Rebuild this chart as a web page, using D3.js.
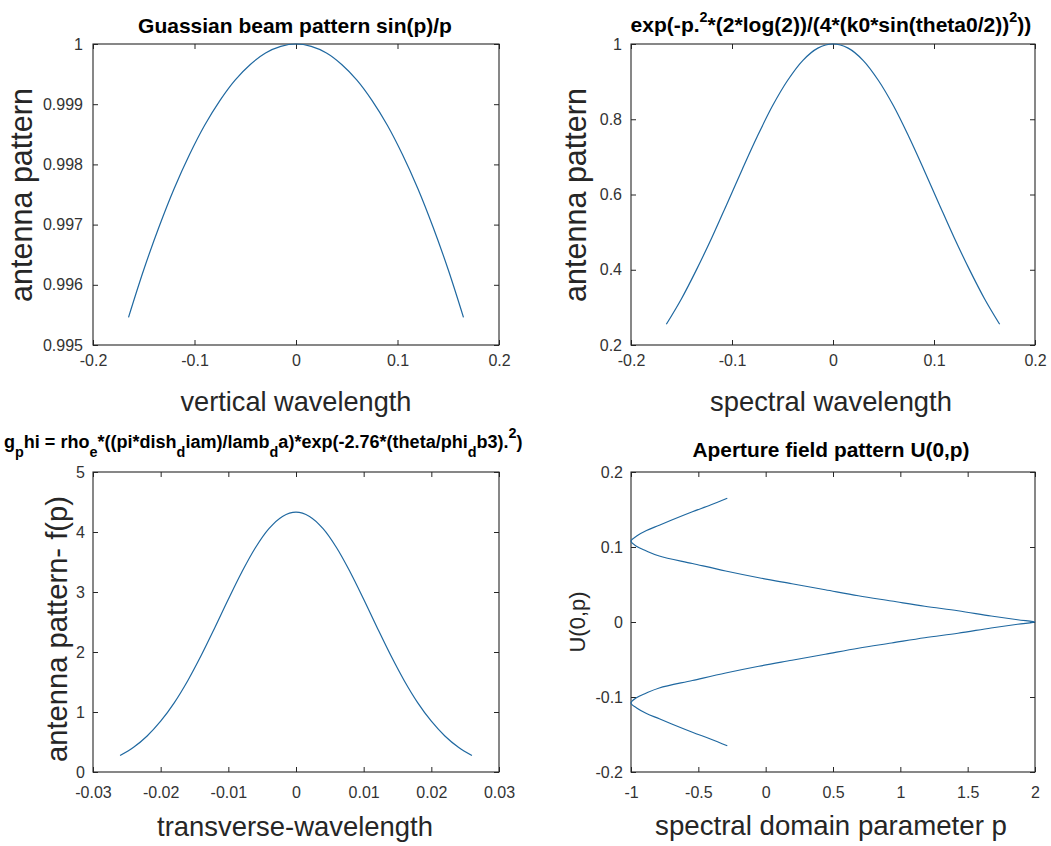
<!DOCTYPE html>
<html><head><meta charset="utf-8">
<script src="https://cdn.jsdelivr.net/npm/d3@7"></script>
<style>
body{margin:0;background:#fff}
svg{display:block}
text{font-family:"Liberation Sans",Arial,Helvetica,sans-serif}
</style>
</head><body>
<svg id="c" width="1051" height="846"></svg>
<script>
// ---------------- DATA ----------------
// Panel 1: Guassian beam pattern sin(p)/p
const p1X = [-0.165,-0.15,-0.135,-0.12,-0.105,-0.09,-0.075,-0.06,-0.045,-0.03,-0.015,0,0.015,0.03,0.045,0.06,0.075,0.09,0.105,0.12,0.135,0.15,0.165];
const p1Y = [0.99546,0.99625,0.99696,0.9976,0.99816,0.99865,0.99906,0.9994,0.99966,0.99985,0.99996,1,0.99996,0.99985,0.99966,0.9994,0.99906,0.99865,0.99816,0.9976,0.99696,0.99625,0.99546];
const p1XTicks = [-0.2,-0.1,0,0.1,0.2];
const p1XTickLabels = ["-0.2","-0.1","0","0.1","0.2"];
const p1YTicks = [0.995,0.996,0.997,0.998,0.999,1];
const p1YTickLabels = ["0.995","0.996","0.997","0.998","0.999","1"];

// Panel 2: exp(-p.^2*...)
const p2X = [-0.165,-0.15,-0.135,-0.12,-0.105,-0.09,-0.075,-0.06,-0.045,-0.03,-0.015,0,0.015,0.03,0.045,0.06,0.075,0.09,0.105,0.12,0.135,0.15,0.165];
const p2Y = [0.255,0.323,0.401,0.485,0.575,0.666,0.754,0.835,0.903,0.956,0.989,1,0.989,0.956,0.903,0.835,0.754,0.666,0.575,0.485,0.401,0.323,0.255];
const p2XTicks = [-0.2,-0.1,0,0.1,0.2];
const p2XTickLabels = ["-0.2","-0.1","0","0.1","0.2"];
const p2YTicks = [0.2,0.4,0.6,0.8,1];
const p2YTickLabels = ["0.2","0.4","0.6","0.8","1"];

// Panel 3: g_phi
const p3X = [-0.026,-0.024,-0.022,-0.02,-0.018,-0.016,-0.014,-0.012,-0.01,-0.008,-0.006,-0.004,-0.002,0,0.002,0.004,0.006,0.008,0.01,0.012,0.014,0.016,0.018,0.02,0.022,0.024,0.026];
const p3Y = [0.274,0.412,0.6,0.846,1.153,1.522,1.945,2.405,2.88,3.334,3.738,4.056,4.26,4.33,4.26,4.056,3.738,3.334,2.88,2.405,1.945,1.522,1.153,0.846,0.6,0.412,0.274];
const p3XTicks = [-0.03,-0.02,-0.01,0,0.01,0.02,0.03];
const p3XTickLabels = ["-0.03","-0.02","-0.01","0","0.01","0.02","0.03"];
const p3YTicks = [0,1,2,3,4,5];
const p3YTickLabels = ["0","1","2","3","4","5"];

// Panel 4: Aperture field pattern U(0,p)  (U on x axis, p on y axis)
const p4P = [-0.165,-0.156,-0.147,-0.138,-0.129,-0.122,-0.115,-0.108,-0.101,-0.095,-0.088,-0.078,-0.068,-0.059,-0.051,-0.043,-0.035,-0.028,-0.021,-0.015,-0.008,-0.003,0,
             0.003,0.008,0.015,0.021,0.028,0.035,0.043,0.051,0.059,0.068,0.078,0.088,0.095,0.101,0.108,0.115,0.122,0.129,0.138,0.147,0.156,0.165];
const p4U = [-0.285,-0.41,-0.544,-0.67,-0.79,-0.885,-0.955,-1.0,-0.96,-0.89,-0.79,-0.544,-0.297,-0.051,0.195,0.442,0.688,0.935,1.181,1.428,1.674,1.871,2.0,
             1.871,1.674,1.428,1.181,0.935,0.688,0.442,0.195,-0.051,-0.297,-0.544,-0.79,-0.89,-0.96,-1.0,-0.955,-0.885,-0.79,-0.67,-0.544,-0.41,-0.285];
const p4XTicks = [-1,-0.5,0,0.5,1,1.5,2];
const p4XTickLabels = ["-1","-0.5","0","0.5","1","1.5","2"];
const p4YTicks = [-0.2,-0.1,0,0.1,0.2];
const p4YTickLabels = ["-0.2","-0.1","0","0.1","0.2"];

// ---------------- DRAWING ----------------
const svg = d3.select("#c");
svg.append("rect").attr("width",1051).attr("height",846).attr("fill","#fff");
const AX = "#262626", LINE = "#1f68a0";

function fitWidth(t, target){
  const len = t.node().getComputedTextLength();
  const fs = parseFloat(t.attr("font-size"));
  t.attr("font-size", fs*target/len);
}

function panel(c){
  const g = svg.append("g");
  const x = d3.scaleLinear().domain(c.xDomain).range([c.left,c.right]);
  const y = d3.scaleLinear().domain(c.yDomain).range([c.bottom,c.top]);
  const ax = (gen, tr, ticks, labels, pad, show) => {
    gen.tickValues(ticks).tickSizeInner(-5).tickSizeOuter(0).tickPadding(pad)
       .tickFormat(d => show ? labels[ticks.indexOf(d)] : "");
    const s = g.append("g").attr("transform", tr).call(gen);
    s.attr("font-family", null).attr("font-size", 16);
    s.select(".domain").remove();
    s.selectAll("line").attr("stroke", AX);
    s.selectAll("text").attr("fill", "#333");
  };
  ax(d3.axisBottom(x), `translate(0,${c.bottom})`, c.xTicks, c.xLabels, c.xPad, true);
  ax(d3.axisTop(x), `translate(0,${c.top})`, c.xTicks, c.xLabels, 0, false);
  ax(d3.axisLeft(y), `translate(${c.left},0)`, c.yTicks, c.yLabels, c.yPad, true);
  ax(d3.axisRight(y), `translate(${c.right},0)`, c.yTicks, c.yLabels, 0, false);
  g.append("rect").attr("x",c.left).attr("y",c.top)
    .attr("width",c.right-c.left).attr("height",c.bottom-c.top)
    .attr("fill","none").attr("stroke",AX).attr("stroke-width",1.1);
  const line = d3.line().x((d,i)=>x(c.xs[i])).y((d,i)=>y(c.ys[i])).curve(d3.curveCatmullRom.alpha(0.5));
  g.append("path").datum(c.xs).attr("d", line).attr("fill","none")
    .attr("stroke", LINE).attr("stroke-width", 1.2);

  // x label
  const xl = g.append("text").attr("x", c.xl.cx).attr("y", c.xl.base).attr("text-anchor","middle")
    .attr("font-size", 26).attr("fill", AX).text(c.xl.text);
  fitWidth(xl, c.xl.w);
  // y label
  const yl = g.append("text").attr("transform", `translate(${c.yl.base},${c.yl.cy}) rotate(-90)`)
    .attr("text-anchor","middle").attr("font-size", 26).attr("fill", AX).text(c.yl.text);
  fitWidth(yl, c.yl.w);
  // title
  const tt = g.append("text").attr("x", c.tl.x).attr("y", c.tl.base)
    .attr("text-anchor", c.tl.anchor).attr("font-weight","bold").attr("font-size", 20).attr("fill","#000");
  let shift = 0;
  c.tl.segs.forEach(s => {
    const fs = 20;
    const target = s.sub ? 0.45*fs : s.sup ? -0.5*fs : 0;
    const ts = tt.append("tspan").attr("dy", target - shift).text(s.t);
    if (s.sub || s.sup) ts.attr("font-size", 0.72*fs);
    shift = target;
  });
  fitWidth(tt, c.tl.w);
}

panel({left:93,right:499,top:44,bottom:345,xDomain:[-0.2,0.2],yDomain:[0.995,1],
  xTicks:p1XTicks,xLabels:p1XTickLabels,yTicks:p1YTicks,yLabels:p1YTickLabels,xPad:10,yPad:10,
  xs:p1X,ys:p1Y,
  xl:{text:"vertical wavelength",cx:296,base:411,w:231},
  yl:{text:"antenna pattern",base:32,cy:195,w:214},
  tl:{x:295,base:33,anchor:"middle",w:314,segs:[{t:"Guassian beam pattern sin(p)/p"}]}});

panel({left:631,right:1035,top:44,bottom:345,xDomain:[-0.2,0.2],yDomain:[0.2,1],
  xTicks:p2XTicks,xLabels:p2XTickLabels,yTicks:p2YTicks,yLabels:p2YTickLabels,xPad:10,yPad:9,
  xs:p2X,ys:p2Y,
  xl:{text:"spectral wavelength",cx:831,base:411,w:242},
  yl:{text:"antenna pattern",base:586,cy:195,w:214},
  tl:{x:831,base:32,anchor:"middle",w:402,segs:[{t:"exp(-p."},{t:"2",sup:true},{t:"*(2*log(2))/(4*(k0*sin(theta0/2))"},{t:"2",sup:true},{t:"))"}]}});

panel({left:93,right:499,top:472,bottom:772,xDomain:[-0.03,0.03],yDomain:[0,5],
  xTicks:p3XTicks,xLabels:p3XTickLabels,yTicks:p3YTicks,yLabels:p3YTickLabels,xPad:15,yPad:8,
  xs:p3X,ys:p3Y,
  xl:{text:"transverse-wavelength",cx:295,base:836,w:276},
  yl:{text:"antenna pattern- f(p)",base:67,cy:629,w:266},
  tl:{x:4,base:448,anchor:"start",w:514,segs:[{t:"g"},{t:"p",sub:true},{t:"hi = rho"},{t:"e",sub:true},{t:"*((pi*dish"},{t:"d",sub:true},{t:"iam)/lamb"},{t:"d",sub:true},{t:"a)*exp(-2.76*(theta/phi"},{t:"d",sub:true},{t:"b3)."},{t:"2",sup:true},{t:")"}]}});

panel({left:631,right:1035,top:472,bottom:772,xDomain:[-1,2],yDomain:[-0.2,0.2],
  xTicks:p4XTicks,xLabels:p4XTickLabels,yTicks:p4YTicks,yLabels:p4YTickLabels,xPad:15,yPad:8,
  xs:p4U,ys:p4P,
  xl:{text:"spectral domain parameter p",cx:831,base:835,w:352},
  yl:{text:"U(0,p)",base:585,cy:622,w:61},
  tl:{x:831,base:457,anchor:"middle",w:277,segs:[{t:"Aperture field pattern U(0,p)"}]}});
</script>
</body></html>
